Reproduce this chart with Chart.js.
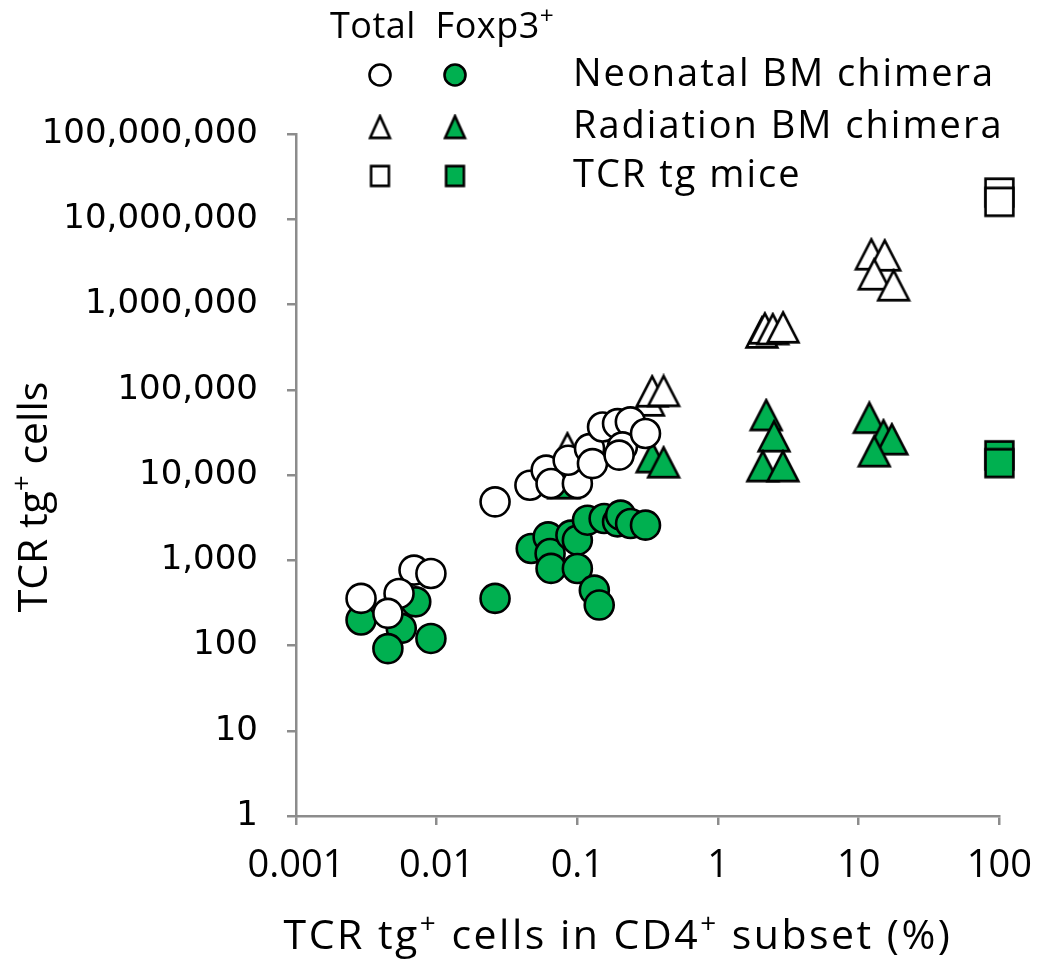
<!DOCTYPE html>
<html><head><meta charset="utf-8">
<script src="https://cdn.jsdelivr.net/npm/chart.js@4"></script>
<style>html,body{margin:0;padding:0;background:#fff}canvas{display:block}</style>
</head><body>
<canvas id="c" width="1050" height="971"></canvas>
<script>
// ---- Data ----
const neoTotalX = [0.0029, 0.0069, 0.0091, 0.0054, 0.0045, 0.026, 0.046, 0.060, 0.065, 0.10, 0.086, 0.122, 0.128, 0.151, 0.193, 0.238, 0.209, 0.198, 0.305];
const neoTotalY = [357, 766, 700, 408, 238, 4840, 7590, 11400, 7950, 7950, 14900, 20400, 13600, 36600, 40100, 42000, 21400, 17100, 30700];
const neoFoxX = [0.0029, 0.0071, 0.0056, 0.0045, 0.0091, 0.026, 0.047, 0.062, 0.064, 0.065, 0.090, 0.10, 0.10, 0.118, 0.155, 0.193, 0.203, 0.239, 0.305, 0.132, 0.143];
const neoFoxY = [199, 325, 159, 92, 121, 357, 1375, 1880, 1200, 802, 1970, 1720, 800, 2950, 3090, 2820, 3380, 2700, 2580, 446, 298];
const radTotalX = [0.085, 0.32, 0.34, 0.41, 2.05, 2.15, 2.45, 2.9, 12.3, 15.3, 12.9, 17.7];
const radTotalY = [20600, 75000, 96000, 97000, 470000, 525000, 515000, 540000, 3880000, 3770000, 2260000, 1680000];
const radFoxX = [0.08, 0.34, 0.41, 2.2, 2.5, 2.08, 2.89, 11.9, 15, 17.2, 12.9];
const radFoxY = [8000, 16200, 14100, 50500, 28500, 12700, 12700, 47000, 29300, 26300, 19000];
const tgTotalX = [100, 100];
const tgTotalY = [20500000, 16000000];
const tgFoxX = [100, 100];
const tgFoxY = [17000, 13800];

const xTickValues = [0.001, 0.01, 0.1, 1, 10, 100];
const xTickLabels = ['0.001', '0.01', '0.1', '1', '10', '100'];
const yTickValues = [1, 10, 100, 1000, 10000, 100000, 1000000, 10000000, 100000000];
const yTickLabels = ['1', '10', '100', '1,000', '10,000', '100,000', '1,000,000', '10,000,000', '100,000,000'];

const legendHeader = 'Total  Foxp3';
const seriesNames = ['Neonatal BM chimera', 'Radiation BM chimera', 'TCR tg mice'];
const xTitle = [['TCR tg', 0], ['+', 1], [' cells in CD4', 0], ['+', 1], [' subset (%)', 0]];
const yTitle = [['TCR tg', 0], ['+', 1], [' cells', 0]];

// ---- Styles ----
const GREEN = '#00B050';
const AXIS = '#8c8c8c';
const TXT_FONT = '"Open Sans", sans-serif';

function triImg(fill, w, h, lw) {
  const c = document.createElement('canvas');
  c.width = Math.ceil(w + lw * 2); c.height = Math.ceil(h + lw * 2);
  const g = c.getContext('2d');
  g.beginPath();
  g.moveTo(c.width / 2, lw);
  g.lineTo(c.width - lw, c.height - lw);
  g.lineTo(lw, c.height - lw);
  g.closePath();
  g.fillStyle = fill; g.fill();
  g.lineWidth = lw; g.strokeStyle = '#000'; g.lineJoin = 'miter'; g.stroke();
  return c;
}
function sqImg(fill, w, h, lw) {
  const c = document.createElement('canvas');
  c.width = Math.ceil(w + lw * 2); c.height = Math.ceil(h + lw * 2);
  const g = c.getContext('2d');
  g.beginPath();
  g.rect(lw, lw, c.width - 2 * lw, c.height - 2 * lw);
  g.fillStyle = fill; g.fill();
  g.lineWidth = lw; g.strokeStyle = '#000'; g.stroke();
  return c;
}
const triW = triImg('#fff', 30, 29, 2.6), triG = triImg(GREEN, 30, 29, 2.6);
const sqW = sqImg('#fff', 27, 27, 2.6), sqG = sqImg(GREEN, 27, 27, 2.6);
const triWs = triImg('#fff', 19, 21, 2.6), triGs = triImg(GREEN, 19, 21, 2.6);
const sqWs = sqImg('#fff', 17, 19, 2.6), sqGs = sqImg(GREEN, 17, 19, 2.6);

const pts = (xs, ys) => xs.map((x, i) => ({ x: x, y: ys[i] }));

function setFont(ctx, size, sp) {
  ctx.font = size + 'px ' + TXT_FONT;
  if ('letterSpacing' in ctx) ctx.letterSpacing = sp + 'px';
}
function runsWidth(ctx, runs, size, sp) {
  let w = 0;
  for (const [t, s] of runs) { setFont(ctx, s ? size * 0.68 : size, sp); w += ctx.measureText(t).width; }
  return w;
}
function drawRuns(ctx, runs, x, y, size, align, sp) {
  sp = sp || 0;
  const w = runsWidth(ctx, runs, size, sp);
  let cx = align === 'center' ? x - w / 2 : x;
  ctx.textBaseline = 'middle'; ctx.textAlign = 'left'; ctx.fillStyle = '#000';
  for (const [t, s] of runs) {
    setFont(ctx, s ? size * 0.68 : size, sp);
    ctx.fillText(t, cx, s ? y - size * 0.3 : y);
    cx += ctx.measureText(t).width;
  }
  if ('letterSpacing' in ctx) ctx.letterSpacing = '0px';
}

const decor = {
  id: 'decor',
  afterDraw(chart) {
    const ctx = chart.ctx;
    ctx.save();
    // legend header
    drawRuns(ctx, [[legendHeader, 0], ['+', 1]], 330, 28, 36, 'left', 0.5);
    const rows = [75, 127, 176];
    const xo = 380, xf = 455;
    ctx.lineWidth = 2.6; ctx.strokeStyle = '#000';
    ctx.beginPath(); ctx.arc(xo, rows[0], 10.5, 0, Math.PI * 2); ctx.fillStyle = '#fff'; ctx.fill(); ctx.stroke();
    ctx.beginPath(); ctx.arc(xf, rows[0], 10.5, 0, Math.PI * 2); ctx.fillStyle = GREEN; ctx.fill(); ctx.stroke();
    ctx.drawImage(triWs, xo - triWs.width / 2, rows[1] - triWs.height / 2);
    ctx.drawImage(triGs, xf - triGs.width / 2, rows[1] - triGs.height / 2);
    ctx.drawImage(sqWs, xo - sqWs.width / 2, rows[2] - sqWs.height / 2);
    ctx.drawImage(sqGs, xf - sqGs.width / 2, rows[2] - sqGs.height / 2);
    seriesNames.forEach((n, i) => drawRuns(ctx, [[n, 0]], 573, rows[i], 38, 'left', 2));
    // axis titles
    drawRuns(ctx, xTitle, 618, 937, 41, 'center', 2.5);
    ctx.translate(35, 497); ctx.rotate(-Math.PI / 2);
    drawRuns(ctx, yTitle, 0, 0, 41, 'center', 0);
    ctx.restore();
  }
};

const common = { borderColor: '#000', borderWidth: 2.6, clip: false, showLine: false };

new Chart(document.getElementById('c'), {
  type: 'scatter',
  data: {
    datasets: [
      Object.assign({ label: 'Neonatal total', data: pts(neoTotalX, neoTotalY), pointStyle: 'circle', pointRadius: 14.5, backgroundColor: '#fff' }, common),
      Object.assign({ label: 'Radiation total', data: pts(radTotalX, radTotalY), pointStyle: triW, backgroundColor: '#fff' }, common),
      Object.assign({ label: 'TCR tg total', data: pts(tgTotalX, tgTotalY), pointStyle: sqW, backgroundColor: '#fff' }, common),
      Object.assign({ label: 'TCR tg Foxp3', data: pts(tgFoxX, tgFoxY), pointStyle: sqG, backgroundColor: GREEN }, common),
      Object.assign({ label: 'Radiation Foxp3', data: pts(radFoxX, radFoxY), pointStyle: triG, backgroundColor: GREEN }, common),
      Object.assign({ label: 'Neonatal Foxp3', data: pts(neoFoxX, neoFoxY), pointStyle: 'circle', pointRadius: 14.5, backgroundColor: GREEN }, common)
    ]
  },
  options: {
    responsive: false, animation: false, devicePixelRatio: 1,
    layout: { padding: { left: 0, right: 45, top: 134, bottom: 0 } },
    plugins: { legend: { display: false }, tooltip: { enabled: false } },
    scales: {
      x: {
        type: 'logarithmic', min: 0.001, max: 100, position: 'bottom',
        afterBuildTicks: s => { s.ticks = xTickValues.map(v => ({ value: v })); },
        afterFit: s => { s.height = 155; },
        ticks: { callback: (v, i) => xTickLabels[i], font: { family: 'Open Sans', size: 38 }, color: '#000', padding: 18, maxRotation: 0, autoSkip: false },
        grid: { drawOnChartArea: false, drawTicks: true, tickLength: 9, color: AXIS, lineWidth: 2.5 },
        border: { color: AXIS, width: 2.5 }
      },
      y: {
        type: 'logarithmic', min: 1, max: 100000000, position: 'left',
        afterBuildTicks: s => { s.ticks = yTickValues.map(v => ({ value: v })); },
        afterFit: s => { s.width = 296; },
        ticks: { callback: (v, i) => yTickLabels[i], font: { family: 'DejaVu Sans', size: 34 }, color: '#000', padding: 29, autoSkip: false },
        grid: { drawOnChartArea: false, drawTicks: true, tickLength: 9, color: AXIS, lineWidth: 2.5 },
        border: { color: AXIS, width: 2.5 }
      }
    }
  },
  plugins: [decor]
});
</script>
</body></html>
